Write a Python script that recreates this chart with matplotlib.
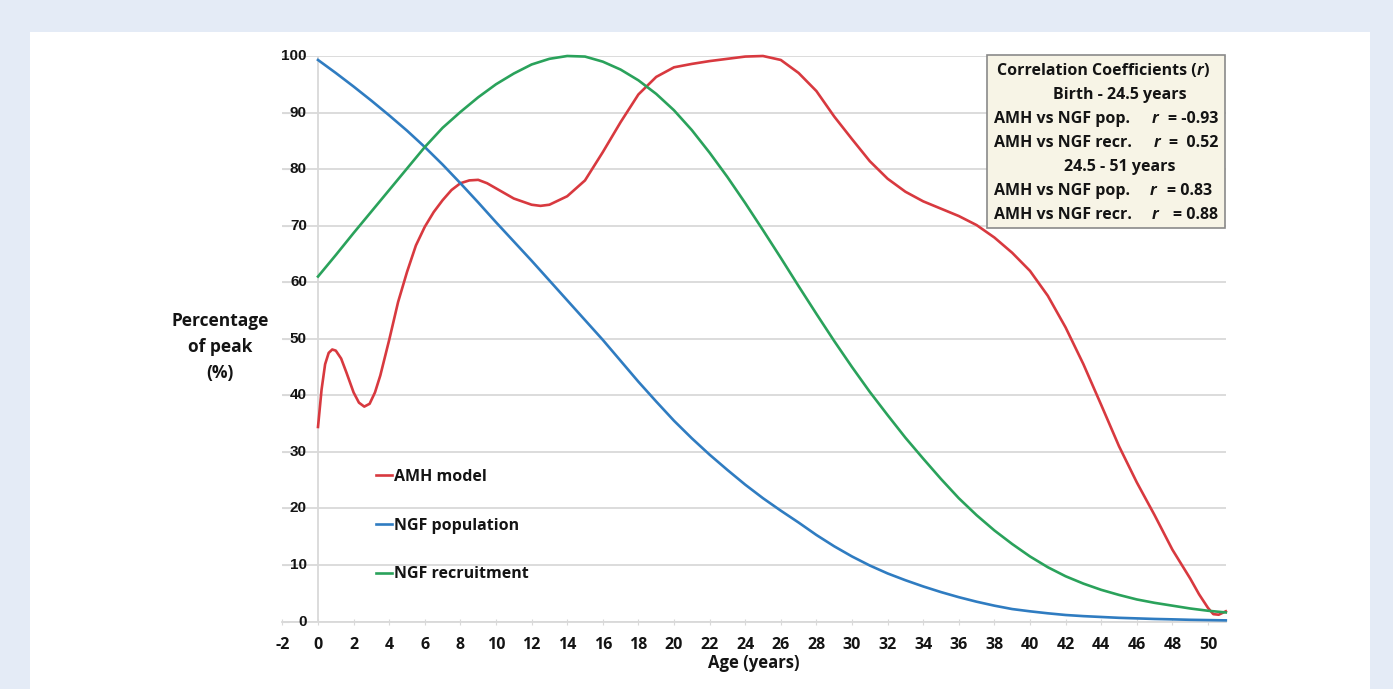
import matplotlib
matplotlib.use("Agg")
import matplotlib.pyplot as plt
from matplotlib.patches import Rectangle
import matplotlib.transforms as mtransforms

plt.rcParams['font.family'] = ['Open Sans', 'DejaVu Sans']

# ---------------- data ----------------
ages = list(range(0, 52))
ngf_population = [99.3, 97.0, 94.6, 92.1, 89.5, 86.8, 83.9, 80.8, 77.5, 74.1,
                  70.6, 67.2, 63.8, 60.3, 56.8, 53.3, 49.8, 46.1, 42.4, 38.9,
                  35.5, 32.4, 29.5, 26.8, 24.2, 21.8, 19.6, 17.5, 15.3, 13.3,
                  11.5, 9.9, 8.5, 7.3, 6.2, 5.2, 4.3, 3.5, 2.8, 2.2,
                  1.8, 1.45, 1.15, 0.95, 0.8, 0.65, 0.55, 0.45, 0.38, 0.3,
                  0.25, 0.2]
ngf_recruitment = [61.0, 64.8, 68.7, 72.5, 76.3, 80.1, 83.9, 87.3, 90.1, 92.7,
                   95.0, 96.9, 98.5, 99.5, 100.0, 99.9, 99.0, 97.6, 95.7, 93.3,
                   90.4, 86.9, 82.9, 78.6, 74.0, 69.2, 64.3, 59.3, 54.4, 49.6,
                   45.0, 40.6, 36.5, 32.5, 28.8, 25.2, 21.8, 18.8, 16.1, 13.7,
                   11.5, 9.6, 8.0, 6.7, 5.6, 4.7, 3.9, 3.3, 2.8, 2.3,
                   1.9, 1.6]
amh_ages = [0, 0.2, 0.4, 0.6, 0.8, 1.0, 1.3, 1.6, 2.0, 2.3, 2.6, 2.9, 3.2, 3.5,
            4.0, 4.5, 5.0, 5.5, 6.0, 6.5, 7.0, 7.5, 8.0, 8.5, 9.0, 9.5, 10, 11,
            12, 12.5, 13, 14, 15, 16, 17, 18, 19, 20, 21, 22, 23, 24, 25, 26,
            27, 28, 29, 30, 31, 32, 33, 34, 35, 36, 37, 38, 39, 40, 41, 42, 43,
            44, 45, 46, 47, 48, 49, 49.5, 50, 50.3, 50.6, 51]
amh_model = [34.4, 41.0, 45.5, 47.5, 48.1, 47.9, 46.5, 44.0, 40.5, 38.7, 38.0,
             38.5, 40.5, 43.5, 49.8, 56.5, 61.8, 66.5, 69.8, 72.4, 74.5, 76.3,
             77.5, 78.0, 78.1, 77.5, 76.6, 74.8, 73.7, 73.5, 73.7, 75.2, 78.0,
             83.0, 88.3, 93.2, 96.3, 98.0, 98.6, 99.1, 99.5, 99.9, 100.0, 99.3,
             97.0, 93.8, 89.3, 85.3, 81.4, 78.3, 76.0, 74.3, 73.0, 71.7, 70.1,
             67.9, 65.2, 62.0, 57.6, 52.0, 45.5, 38.3, 31.0, 24.6, 18.8, 12.7,
             7.6, 4.8, 2.4, 1.3, 1.2, 1.8]

series_labels = ["AMH model", "NGF population", "NGF recruitment"]
x_ticks = list(range(-2, 52, 2))
y_ticks = list(range(0, 101, 10))
corr_lines = [
    ("AMH vs NGF pop.", "= -0.93"),
    ("AMH vs NGF recr.", "=  0.52"),
    ("AMH vs NGF pop.", "= 0.83"),
    ("AMH vs NGF recr.", "= 0.88"),
]

RED = '#d8393f'
BLUE = '#2f7cc1'
GREEN = '#2aa25b'
TXT = '#141414'
GRID = '#d9d9d9'

W, H = 1393, 689
fig = plt.figure(figsize=(W / 100, H / 100), dpi=100)
fig.patch.set_facecolor('#e4ebf6')
fig.patches.append(Rectangle((30 / W, 0), (1370 - 30) / W, (H - 32) / H,
                             transform=fig.transFigure, facecolor='white',
                             edgecolor='none', zorder=-5))

x0, x1 = 282.4, 1225.8
yb, yt = 621.5, 56.0
ax = fig.add_axes([x0 / W, (H - yb) / H, (x1 - x0) / W, (yb - yt) / H])
ax.set_zorder(2)
ax.set_facecolor('none')
ax.set_xlim(-2, 51)
ax.set_ylim(0, 100)

for s in ['top', 'right', 'left']:
    ax.spines[s].set_visible(False)
ax.spines['bottom'].set_color(GRID)
ax.spines['bottom'].set_linewidth(1.3)

ax.set_yticks(y_ticks)
ax.yaxis.grid(True, color=GRID, linewidth=1.3)
ax.set_axisbelow(True)
ax.tick_params(axis='y', direction='in', length=5, color=GRID, labelleft=False)
ax.axvline(0, color=GRID, linewidth=1.3, zorder=1)

ax.set_xticks(x_ticks)
ax.set_xticklabels([str(v) for v in x_ticks])
ax.tick_params(axis='x', direction='inout', length=4, color=GRID, pad=9,
               labelsize=11.5, labelcolor=TXT)
for lab in ax.get_xticklabels():
    lab.set_fontweight('bold')

trans = mtransforms.blended_transform_factory(ax.transData, ax.transData)
for v in y_ticks:
    ax.text(-0.62, v, str(v), ha='right', va='center', fontsize=11,
            fontweight='bold', color=TXT, family=['Liberation Sans', 'DejaVu Sans'],
            transform=trans)

ax.set_xlabel("Age (years)", fontsize=12, fontweight='bold', color=TXT, labelpad=1)
fig.text(220 / W, 1 - 347 / H, "Percentage\nof peak\n(%)", ha='center', va='center',
         fontsize=12.5, fontweight='bold', color=TXT, linespacing=1.6)

l_amh, = ax.plot(amh_ages, amh_model, color=RED, lw=1.9, clip_on=False, zorder=3)
l_pop, = ax.plot(ages, ngf_population, color=BLUE, lw=1.9, clip_on=False, zorder=3)
l_rec, = ax.plot(ages, ngf_recruitment, color=GREEN, lw=1.9, clip_on=False, zorder=3)

leg = ax.legend([l_amh, l_pop, l_rec], series_labels, loc='upper left',
                bbox_to_anchor=((376 - x0) / (x1 - x0), (yb - 469) / (yb - yt)),
                frameon=False, handlelength=1.0, handletextpad=0.15,
                labelspacing=2.05, borderaxespad=0, borderpad=0,
                prop={'weight': 'bold', 'size': 11.5})
for t in leg.get_texts():
    t.set_color(TXT)

# correlation box
def fx(px):
    return (px - x0) / (x1 - x0)

def fy(py):
    return (yb - py) / (yb - yt)

box = Rectangle((fx(987), fy(228)), fx(1225) - fx(987), fy(55) - fy(228),
                transform=ax.transAxes, facecolor='#f7f4e6', edgecolor='#8a8a8a',
                linewidth=1.2, zorder=5, clip_on=False)
ax.add_patch(box)

fs = 11.5
t1 = ax.text(fx(997), fy(71), "Correlation Coefficients (", transform=ax.transAxes,
             ha='left', va='center', fontsize=fs, fontweight='bold', color=TXT, zorder=6)
t2 = ax.annotate("r", xy=(1, 0), xycoords=t1, ha='left', va='bottom', fontsize=fs,
                 fontweight='bold', fontstyle='italic', color=TXT, zorder=6)
t3 = ax.annotate(")", xy=(1, 0), xycoords=t2, ha='left', va='bottom', fontsize=fs,
                 fontweight='bold', color=TXT, zorder=6)
ax.text(fx(1120), fy(95), "Birth - 24.5 years", transform=ax.transAxes, ha='center',
        va='center', fontsize=fs, fontweight='bold', color=TXT, zorder=6)
ax.text(fx(1120), fy(167), "24.5 - 51 years", transform=ax.transAxes, ha='center',
        va='center', fontsize=fs, fontweight='bold', color=TXT, zorder=6)

row_y = [119, 143, 191, 215]
r_x = [1155, 1157, 1153, 1155]
right_x = [1218, 1218, 1212, 1218]
for (left, val), py, rx, vx in zip(corr_lines, row_y, r_x, right_x):
    ax.text(fx(994), fy(py), left, transform=ax.transAxes, ha='left', va='center',
            fontsize=fs, fontweight='bold', color=TXT, zorder=6)
    ax.text(fx(rx), fy(py), "r", transform=ax.transAxes, ha='center', va='center',
            fontsize=fs, fontweight='bold', fontstyle='italic', color=TXT, zorder=6)
    ax.text(fx(vx), fy(py), val, transform=ax.transAxes, ha='right', va='center',
            fontsize=fs, fontweight='bold', color=TXT, zorder=6)

fig.savefig("out.png", dpi=100, facecolor=fig.get_facecolor())
